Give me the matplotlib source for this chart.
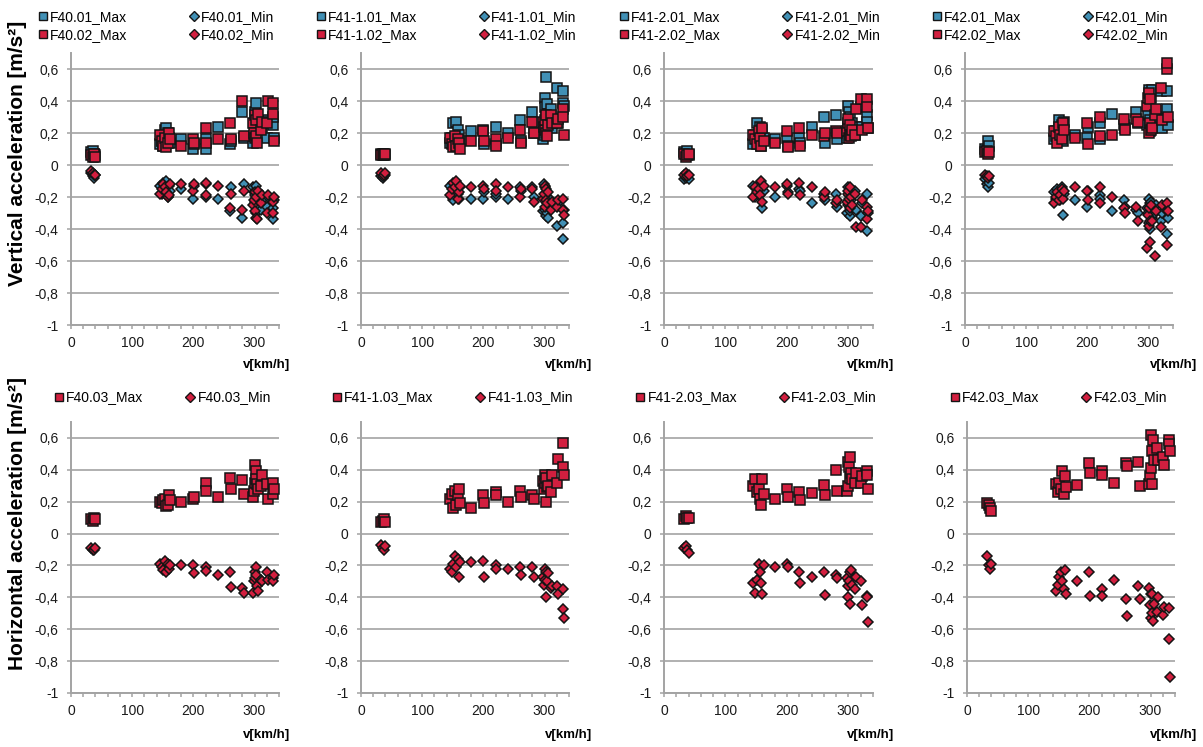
import matplotlib as mpl
mpl.use('Agg')
import matplotlib.pyplot as plt
from matplotlib.lines import Line2D
from matplotlib.ticker import MultipleLocator, FuncFormatter

plt.rcParams['font.family'] = ['Liberation Sans Narrow', 'Liberation Sans', 'DejaVu Sans']

# run speeds [km/h], shared by every sensor
speed = [33, 36, 38, 40,
         145, 148, 151, 154, 156, 158, 160, 162,
         180, 200, 201, 220, 221, 240, 260, 262, 280, 282,
         298, 299, 300, 301, 302, 303, 304, 306, 310, 312,
         320, 322, 330, 331, 332]

# vertical acceleration [m/s2]
f40_01_max = [0.08, 0.09, 0.07, 0.06,
              0.13, 0.15, 0.12, 0.22, 0.23, 0.20, 0.17, 0.14,
              0.16, 0.10, 0.13, 0.10, 0.16, 0.24, 0.13, 0.15, 0.33, 0.17,
              0.14, 0.18, 0.21, 0.33, 0.39, 0.24, 0.30, 0.25, 0.27, 0.22,
              0.17, 0.28, 0.25, 0.30, 0.17]
f40_01_min = [-0.05, -0.07, -0.08, -0.06,
              -0.13, -0.18, -0.11, -0.15, -0.10, -0.20, -0.13, -0.16,
              -0.15, -0.21, -0.13, -0.20, -0.12, -0.21, -0.29, -0.14, -0.33, -0.12,
              -0.14, -0.17, -0.19, -0.23, -0.13, -0.30, -0.26, -0.17, -0.28, -0.22,
              -0.26, -0.20, -0.34, -0.27, -0.22]
f40_02_max = [0.06, 0.05, 0.07, 0.05,
              0.19, 0.15, 0.12, 0.17, 0.11, 0.14, 0.20, 0.16,
              0.12, 0.16, 0.14, 0.23, 0.14, 0.16, 0.26, 0.16, 0.40, 0.18,
              0.26, 0.20, 0.31, 0.17, 0.18, 0.28, 0.14, 0.32, 0.22, 0.27,
              0.26, 0.40, 0.39, 0.32, 0.15]
f40_02_min = [-0.04, -0.05, -0.06, -0.06,
              -0.18, -0.15, -0.12, -0.14, -0.17, -0.20, -0.19, -0.12,
              -0.12, -0.16, -0.12, -0.11, -0.19, -0.13, -0.27, -0.18, -0.28, -0.16,
              -0.25, -0.22, -0.29, -0.17, -0.20, -0.33, -0.34, -0.16, -0.24, -0.19,
              -0.30, -0.19, -0.30, -0.23, -0.20]

f41_1_01_max = [0.07, 0.06, 0.07, 0.06,
                0.14, 0.17, 0.26, 0.12, 0.27, 0.22, 0.19, 0.15,
                0.21, 0.22, 0.13, 0.24, 0.13, 0.20, 0.28, 0.15, 0.33, 0.20,
                0.16, 0.19, 0.42, 0.36, 0.55, 0.30, 0.38, 0.32, 0.35, 0.23,
                0.48, 0.26, 0.46, 0.39, 0.37]
f41_1_01_min = [-0.07, -0.08, -0.07, -0.06,
                -0.13, -0.20, -0.22, -0.16, -0.12, -0.18, -0.21, -0.14,
                -0.21, -0.21, -0.17, -0.20, -0.18, -0.21, -0.14, -0.16, -0.14, -0.20,
                -0.29, -0.12, -0.14, -0.28, -0.32, -0.20, -0.30, -0.33, -0.22, -0.25,
                -0.38, -0.24, -0.46, -0.36, -0.28]
f41_1_02_max = [0.06, 0.07, 0.06, 0.07,
                0.17, 0.13, 0.11, 0.18, 0.12, 0.16, 0.14, 0.10,
                0.15, 0.21, 0.15, 0.16, 0.12, 0.17, 0.22, 0.14, 0.27, 0.20,
                0.27, 0.24, 0.22, 0.28, 0.31, 0.20, 0.18, 0.25, 0.31, 0.26,
                0.26, 0.29, 0.35, 0.30, 0.19]
f41_1_02_min = [-0.05, -0.07, -0.06, -0.05,
                -0.19, -0.15, -0.11, -0.14, -0.10, -0.21, -0.17, -0.13,
                -0.14, -0.13, -0.15, -0.12, -0.16, -0.14, -0.20, -0.15, -0.15, -0.23,
                -0.21, -0.18, -0.26, -0.13, -0.15, -0.22, -0.24, -0.17, -0.28, -0.23,
                -0.26, -0.22, -0.21, -0.28, -0.31]

f41_2_01_max = [0.08, 0.07, 0.09, 0.06,
                0.13, 0.19, 0.26, 0.15, 0.24, 0.12, 0.22, 0.17,
                0.16, 0.17, 0.12, 0.17, 0.14, 0.24, 0.30, 0.14, 0.31, 0.16,
                0.17, 0.24, 0.37, 0.33, 0.30, 0.20, 0.21, 0.26, 0.19, 0.24,
                0.36, 0.24, 0.31, 0.27, 0.23]
f41_2_01_min = [-0.09, -0.08, -0.07, -0.09,
                -0.13, -0.20, -0.15, -0.18, -0.11, -0.12, -0.27, -0.16,
                -0.20, -0.13, -0.17, -0.15, -0.16, -0.24, -0.18, -0.22, -0.18, -0.26,
                -0.30, -0.25, -0.14, -0.19, -0.32, -0.29, -0.22, -0.27, -0.16, -0.28,
                -0.32, -0.24, -0.18, -0.41, -0.30]
f41_2_02_max = [0.07, 0.05, 0.06, 0.07,
                0.19, 0.16, 0.13, 0.21, 0.17, 0.12, 0.23, 0.15,
                0.14, 0.21, 0.11, 0.23, 0.12, 0.19, 0.18, 0.20, 0.21, 0.20,
                0.21, 0.26, 0.29, 0.17, 0.25, 0.19, 0.18, 0.22, 0.19, 0.35,
                0.41, 0.22, 0.41, 0.36, 0.23]
f41_2_02_min = [-0.06, -0.05, -0.07, -0.06,
                -0.20, -0.14, -0.17, -0.15, -0.19, -0.10, -0.23, -0.13,
                -0.14, -0.12, -0.18, -0.11, -0.19, -0.14, -0.20, -0.17, -0.24, -0.22,
                -0.23, -0.18, -0.16, -0.21, -0.27, -0.14, -0.20, -0.25, -0.18, -0.39,
                -0.39, -0.22, -0.26, -0.34, -0.29]

f42_01_max = [0.10, 0.09, 0.15, 0.12,
              0.16, 0.21, 0.18, 0.28, 0.20, 0.25, 0.15, 0.27,
              0.19, 0.17, 0.24, 0.26, 0.16, 0.32, 0.25, 0.23, 0.33, 0.26,
              0.25, 0.32, 0.47, 0.40, 0.28, 0.21, 0.42, 0.47, 0.27, 0.30,
              0.46, 0.23, 0.46, 0.35, 0.25]
f42_01_min = [-0.09, -0.12, -0.14, -0.11,
              -0.17, -0.21, -0.15, -0.19, -0.22, -0.14, -0.31, -0.18,
              -0.22, -0.26, -0.16, -0.19, -0.21, -0.29, -0.22, -0.26, -0.28, -0.30,
              -0.27, -0.30, -0.21, -0.36, -0.40, -0.24, -0.23, -0.33, -0.30, -0.25,
              -0.35, -0.30, -0.43, -0.29, -0.33]
f42_02_max = [0.08, 0.09, 0.07, 0.08,
              0.21, 0.18, 0.14, 0.24, 0.19, 0.16, 0.26, 0.22,
              0.17, 0.26, 0.13, 0.30, 0.18, 0.19, 0.29, 0.22, 0.29, 0.27,
              0.37, 0.42, 0.45, 0.20, 0.41, 0.26, 0.22, 0.23, 0.31, 0.35,
              0.48, 0.28, 0.60, 0.64, 0.30]
f42_02_min = [-0.06, -0.07, -0.08, -0.07,
              -0.24, -0.20, -0.17, -0.22, -0.19, -0.15, -0.21, -0.16,
              -0.14, -0.16, -0.22, -0.14, -0.24, -0.20, -0.27, -0.30, -0.26, -0.35,
              -0.52, -0.31, -0.38, -0.27, -0.48, -0.35, -0.25, -0.35, -0.57, -0.29,
              -0.39, -0.25, -0.50, -0.24, -0.29]

# horizontal acceleration [m/s2]
f40_03_max = [0.09, 0.08, 0.10, 0.09,
              0.20, 0.19, 0.21, 0.22, 0.17, 0.18, 0.24, 0.21,
              0.20, 0.22, 0.23, 0.32, 0.27, 0.23, 0.35, 0.28, 0.335, 0.25,
              0.23, 0.27, 0.43, 0.32, 0.39, 0.34, 0.31, 0.28, 0.30, 0.37,
              0.31, 0.22, 0.32, 0.25, 0.28]
f40_03_min = [-0.09, -0.10, -0.10, -0.09,
              -0.19, -0.21, -0.23, -0.17, -0.24, -0.19, -0.22, -0.20,
              -0.20, -0.20, -0.25, -0.21, -0.235, -0.26, -0.24, -0.335, -0.34, -0.37,
              -0.37, -0.30, -0.24, -0.28, -0.21, -0.26, -0.33, -0.36, -0.29, -0.30,
              -0.24, -0.29, -0.28, -0.30, -0.26]
f41_1_03_max = [0.07, 0.08, 0.09, 0.07,
                0.22, 0.25, 0.16, 0.27, 0.18, 0.24, 0.28, 0.19,
                0.16, 0.24, 0.19, 0.26, 0.24, 0.20, 0.27, 0.23, 0.24, 0.215,
                0.33, 0.28, 0.37, 0.32, 0.20, 0.35, 0.29, 0.30, 0.26, 0.37,
                0.32, 0.47, 0.57, 0.42, 0.37]
f41_1_03_min = [-0.07, -0.09, -0.10, -0.08,
                -0.22, -0.24, -0.19, -0.14, -0.21, -0.16, -0.27, -0.18,
                -0.18, -0.17, -0.275, -0.20, -0.22, -0.22, -0.21, -0.26, -0.21, -0.275,
                -0.27, -0.32, -0.22, -0.29, -0.40, -0.24, -0.30, -0.25, -0.34, -0.33,
                -0.33, -0.38, -0.35, -0.47, -0.53]
f41_2_03_max = [0.09, 0.11, 0.10, 0.10,
                0.30, 0.34, 0.26, 0.28, 0.22, 0.18, 0.34, 0.25,
                0.22, 0.28, 0.23, 0.26, 0.21, 0.255, 0.305, 0.24, 0.40, 0.27,
                0.27, 0.30, 0.45, 0.42, 0.48, 0.35, 0.38, 0.34, 0.32, 0.38,
                0.32, 0.36, 0.39, 0.37, 0.28]
f41_2_03_min = [-0.09, -0.08, -0.10, -0.12,
                -0.31, -0.37, -0.29, -0.19, -0.24, -0.31, -0.38, -0.20,
                -0.21, -0.19, -0.21, -0.24, -0.31, -0.27, -0.24, -0.385, -0.26, -0.28,
                -0.28, -0.33, -0.40, -0.30, -0.44, -0.24, -0.23, -0.32, -0.35, -0.27,
                -0.295, -0.45, -0.39, -0.40, -0.555]
f42_03_max = [0.19, 0.18, 0.16, 0.14,
              0.31, 0.26, 0.32, 0.28, 0.39, 0.25, 0.36, 0.29,
              0.305, 0.44, 0.38, 0.39, 0.37, 0.315, 0.44, 0.425, 0.45, 0.30,
              0.31, 0.36, 0.62, 0.41, 0.52, 0.31, 0.59, 0.46, 0.54, 0.46,
              0.48, 0.43, 0.59, 0.56, 0.52]
f42_03_min = [-0.14, -0.20, -0.22, -0.19,
              -0.36, -0.32, -0.27, -0.24, -0.30, -0.35, -0.23, -0.38,
              -0.30, -0.24, -0.39, -0.35, -0.39, -0.29, -0.41, -0.515, -0.33, -0.41,
              -0.34, -0.45, -0.53, -0.38, -0.38, -0.50, -0.55, -0.44, -0.49, -0.40,
              -0.51, -0.46, -0.465, -0.66, -0.90]

sensors = ['F40', 'F41-1', 'F41-2', 'F42']
vertical = [(f40_01_max, f40_01_min, f40_02_max, f40_02_min),
            (f41_1_01_max, f41_1_01_min, f41_1_02_max, f41_1_02_min),
            (f41_2_01_max, f41_2_01_min, f41_2_02_max, f41_2_02_min),
            (f42_01_max, f42_01_min, f42_02_max, f42_02_min)]
horizontal = [(f40_03_max, f40_03_min),
              (f41_1_03_max, f41_1_03_min),
              (f41_2_03_max, f41_2_03_min),
              (f42_03_max, f42_03_min)]

BLUE = '#4190b5'
RED = '#d21f3f'
EDGE = '#141414'
GRID = '#a3a3a3'
W, H = 1203, 747

# panel boxes in pixels: left, right, top, bottom
top_left = [71, 361, 664, 965]
top_right = [279, 569, 873, 1173]
bot_left = [71, 361, 664, 967]
bot_right = [279, 569, 873, 1175]
xlabel_end = [290, 592, 894, 1197]


def tick_fmt(v, pos):
    if abs(v) < 1e-9:
        return '0'
    if abs(v - round(v)) < 1e-9:
        return '%d' % round(v)
    return ('%.1f' % v).replace('.', ',')


def add_axes(fig, left, right, top, bottom):
    ax = fig.add_axes([left / W, 1 - bottom / H, (right - left) / W, (bottom - top) / H])
    ax.set_xlim(0, 340)
    ax.set_ylim(-1, 0.7)
    ax.xaxis.set_major_locator(MultipleLocator(100))
    ax.xaxis.set_minor_locator(MultipleLocator(20))
    ax.yaxis.set_major_locator(MultipleLocator(0.2))
    ax.yaxis.set_major_formatter(FuncFormatter(tick_fmt))
    ax.xaxis.set_major_formatter(FuncFormatter(tick_fmt))
    ax.yaxis.grid(True, color=GRID, lw=1.2)
    ax.set_axisbelow(True)
    for s in ['top', 'right']:
        ax.spines[s].set_visible(False)
    for s in ['left', 'bottom']:
        ax.spines[s].set_color(GRID)
        ax.spines[s].set_linewidth(1.4)
    ax.tick_params(which='both', direction='out', color=GRID, width=1.1, length=3,
                   labelsize=10, labelcolor='#1a1a1a')
    ax.tick_params(axis='y', pad=6)
    ax.tick_params(axis='x', pad=5)
    return ax


def series(ax, vals, marker, color):
    ms = 6.6 if marker == 's' else 5.6
    ax.plot(speed, vals, ls='none', marker=marker, ms=ms, mfc=color, mec=EDGE, mew=1.1)
    return Line2D([], [], ls='none', marker=marker, ms=ms - 0.6, mfc=color, mec=EDGE, mew=1.0)


fig = plt.figure(figsize=(W / 100, H / 100), dpi=100, facecolor='white')

for i, name in enumerate(sensors):
    ax = add_axes(fig, top_left[i], top_right[i], 53, 325)
    a_max, a_min, b_max, b_min = vertical[i]
    h1 = series(ax, a_max, 's', BLUE)
    h2 = series(ax, a_min, 'D', BLUE)
    h3 = series(ax, b_max, 's', RED)
    h4 = series(ax, b_min, 'D', RED)
    labels = [name + '.01_Max', name + '.02_Max', name + '.01_Min', name + '.02_Min']
    ax.legend([h1, h3, h2, h4], labels, ncol=2, loc='lower center',
              bbox_to_anchor=(0.41, 1.04), frameon=False, fontsize=10,
              handlelength=0.7, handletextpad=0.2, columnspacing=4.4,
              labelspacing=0.3, borderpad=0, borderaxespad=0)
    fig.text(xlabel_end[i] / W, 1 - 365 / H, 'v[km/h]', ha='right', va='center',
             fontsize=9.5, fontweight='bold', family=['Liberation Sans', 'DejaVu Sans'])

for i, name in enumerate(sensors):
    ax = add_axes(fig, bot_left[i], bot_right[i], 422, 693)
    c_max, c_min = horizontal[i]
    h1 = series(ax, c_max, 's', RED)
    h2 = series(ax, c_min, 'D', RED)
    ax.legend([h1, h2], [name + '.03_Max', name + '.03_Min'], ncol=2, loc='lower center',
              bbox_to_anchor=(0.44, 1.065), frameon=False, fontsize=10,
              handlelength=0.7, handletextpad=0.2, columnspacing=3.0,
              borderpad=0, borderaxespad=0)
    fig.text(xlabel_end[i] / W, 1 - 735 / H, 'v[km/h]', ha='right', va='center',
             fontsize=9.5, fontweight='bold', family=['Liberation Sans', 'DejaVu Sans'])

fig.text(18 / W, 1 - 153 / H, 'Vertical acceleration [m/s²]', rotation=90,
         ha='center', va='center', fontsize=15, fontweight='bold',
         family=['Liberation Sans', 'DejaVu Sans'])
fig.text(18 / W, 1 - 524 / H, 'Horizontal acceleration [m/s²]', rotation=90,
         ha='center', va='center', fontsize=15, fontweight='bold',
         family=['Liberation Sans', 'DejaVu Sans'])

fig.savefig('out.png', dpi=100, facecolor='white')
